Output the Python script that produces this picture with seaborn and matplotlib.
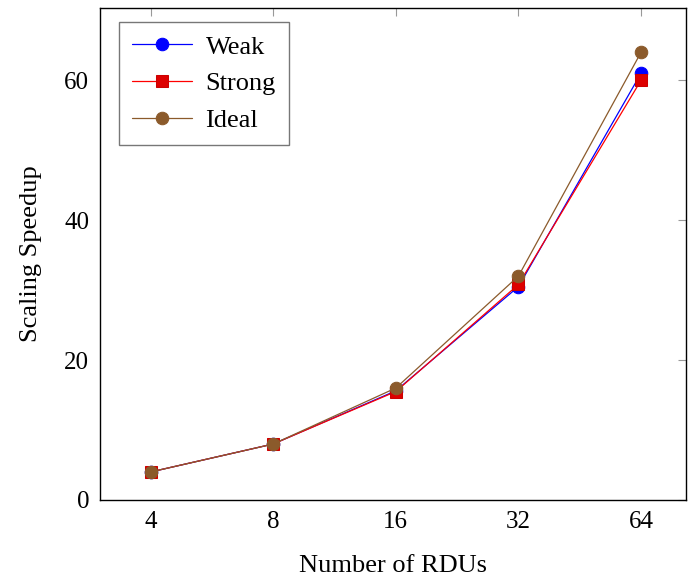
import numpy as np
import pandas as pd
import matplotlib
matplotlib.use("Agg")
import matplotlib.pyplot as plt
import seaborn as sns

# chart data
rdus = ["4", "8", "16", "32", "64"]
weak = [4.0, 8.0, 15.6, 30.5, 61.0]
strong = [4.0, 8.0, 15.5, 30.8, 60.0]
ideal = [4.0, 8.0, 16.0, 32.0, 64.0]

sns.set_style("white")
plt.rcParams["font.family"] = ["Liberation Serif", "DejaVu Serif"]
plt.rcParams["text.color"] = "black"
plt.rcParams["axes.labelcolor"] = "black"
plt.rcParams["xtick.labelcolor"] = "black"
plt.rcParams["ytick.labelcolor"] = "black"

df = pd.DataFrame({"x": np.arange(len(rdus)), "Weak": weak, "Strong": strong, "Ideal": ideal})

fig, ax = plt.subplots(figsize=(6.92, 5.80), dpi=100)

styles = [("Weak", "#0000ff", "o", 9), ("Strong", "#ff0000", "s", 8), ("Ideal", "#8b5a2b", "o", 9)]
for name, col, mk, ms in styles:
    sns.lineplot(data=df, x="x", y=name, ax=ax, color=col, marker=mk, markersize=ms,
                 markeredgecolor=col if name != "Strong" else "#cc0000",
                 markerfacecolor=col if name != "Strong" else "#dd0000",
                 linewidth=0.9, label=name)

ax.set_xlim(-0.41, 4.37)
ax.set_ylim(0, 70.3)
ax.set_xticks(np.arange(len(rdus)))
ax.set_xticklabels(rdus)
ax.set_yticks([0, 20, 40, 60])
ax.tick_params(direction="in", length=6, color="#999999", top=True, right=True,
               labelsize=18, pad=8)
for s in ax.spines.values():
    s.set_color("black")
    s.set_linewidth(1.0)
ax.set_xlabel("Number of RDUs", fontsize=19, labelpad=16)
ax.set_ylabel("Scaling Speedup", fontsize=19, labelpad=16)

leg = ax.legend(loc="upper left", fontsize=19, frameon=True, fancybox=False,
                edgecolor="#555555", handlelength=2.3, borderpad=0.5,
                labelspacing=0.5, handletextpad=0.5, borderaxespad=0,
                bbox_to_anchor=(0.031, 0.972))
leg.get_frame().set_linewidth(1.0)

fig.subplots_adjust(left=0.145, right=0.992, top=0.986, bottom=0.138)
fig.savefig("out.png", dpi=100)
